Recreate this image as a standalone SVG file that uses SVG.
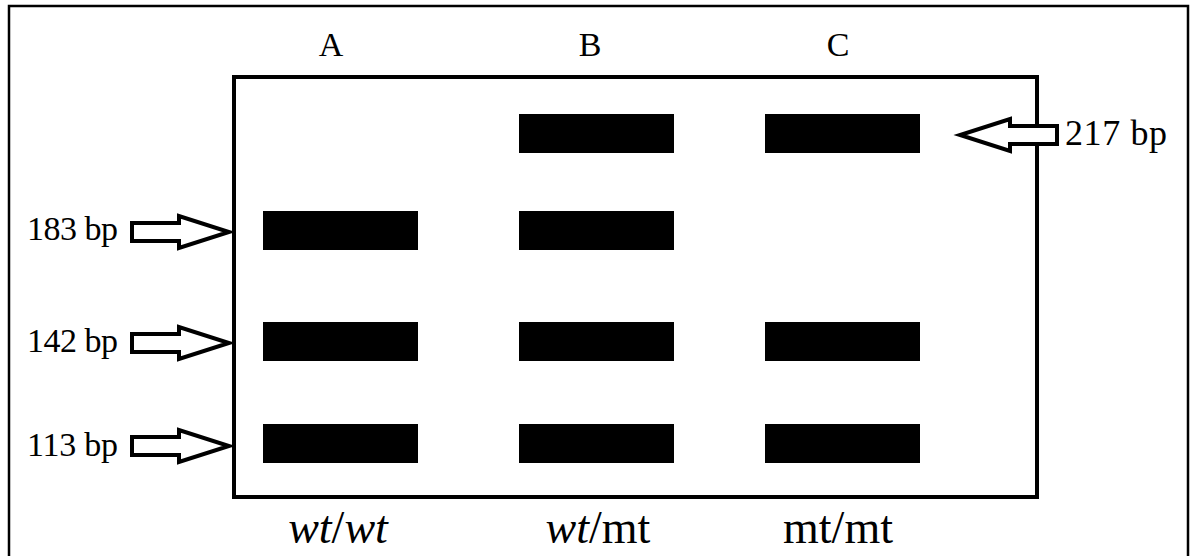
<svg xmlns="http://www.w3.org/2000/svg" width="1191" height="556" viewBox="0 0 1191 556">
  <style>
    .txt { font-family: "Liberation Serif", "Times New Roman", serif; fill: #000; }
    .lane { font-size: 34px; text-anchor: middle; }
    .size { font-size: 34px; }
    .geno { font-size: 46px; text-anchor: middle; }
    .band { fill: #000; }
    .arrow { fill: #fff; stroke: #000; stroke-width: 4; stroke-linejoin: miter; }
  </style>
  <defs>
    <!-- hollow block arrow pointing right, tip at origin -->
    <path id="arrR" d="M-97,-9 H-50 V-16 L0,0 L-50,16 V9 H-97 Z"/>
  </defs>
  <rect x="0" y="0" width="1191" height="556" fill="#fff"/>
  <!-- outer frame -->
  <path d="M9,560 V6 H1188 V560" fill="none" stroke="#000" stroke-width="2.5"/>
  <!-- gel outline -->
  <rect id="gel" x="234" y="77" width="803" height="420" fill="none" stroke="#000" stroke-width="4"/>

  <g id="lane-labels" class="txt lane">
    <text x="331" y="56">A</text>
    <text x="590" y="56">B</text>
    <text x="838" y="56">C</text>
  </g>

  <g id="lane-A">
    <rect class="band" x="263" y="211" width="155" height="39"/>
    <rect class="band" x="263" y="322" width="155" height="39"/>
    <rect class="band" x="263" y="424" width="155" height="39"/>
  </g>
  <g id="lane-B">
    <rect class="band" x="519" y="114" width="155" height="39"/>
    <rect class="band" x="519" y="211" width="155" height="39"/>
    <rect class="band" x="519" y="322" width="155" height="39"/>
    <rect class="band" x="519" y="424" width="155" height="39"/>
  </g>
  <g id="lane-C">
    <rect class="band" x="765" y="114" width="155" height="39"/>
    <rect class="band" x="765" y="322" width="155" height="39"/>
    <rect class="band" x="765" y="424" width="155" height="39"/>
  </g>

  <g id="connectors">
    <use href="#arrR" class="arrow" transform="translate(229,232)"/>
    <use href="#arrR" class="arrow" transform="translate(229,343)"/>
    <use href="#arrR" class="arrow" transform="translate(229,446)"/>
    <use href="#arrR" class="arrow" transform="translate(960,135) scale(-1,1)"/>
  </g>

  <g id="size-labels" class="txt size">
    <text x="27" y="240" textLength="91" lengthAdjust="spacing">183 bp</text>
    <text x="27" y="352" textLength="91" lengthAdjust="spacing">142 bp</text>
    <text x="27" y="456" textLength="91" lengthAdjust="spacing">113 bp</text>
    <text x="1065" y="145" font-size="36" textLength="102" lengthAdjust="spacing">217 bp</text>
  </g>

  <g id="genotypes" class="txt geno">
    <text x="338" y="543"><tspan font-style="italic">wt</tspan>/<tspan font-style="italic">wt</tspan></text>
    <text x="598" y="543"><tspan font-style="italic">wt</tspan>/mt</text>
    <text x="838" y="543">mt/mt</text>
  </g>
</svg>
